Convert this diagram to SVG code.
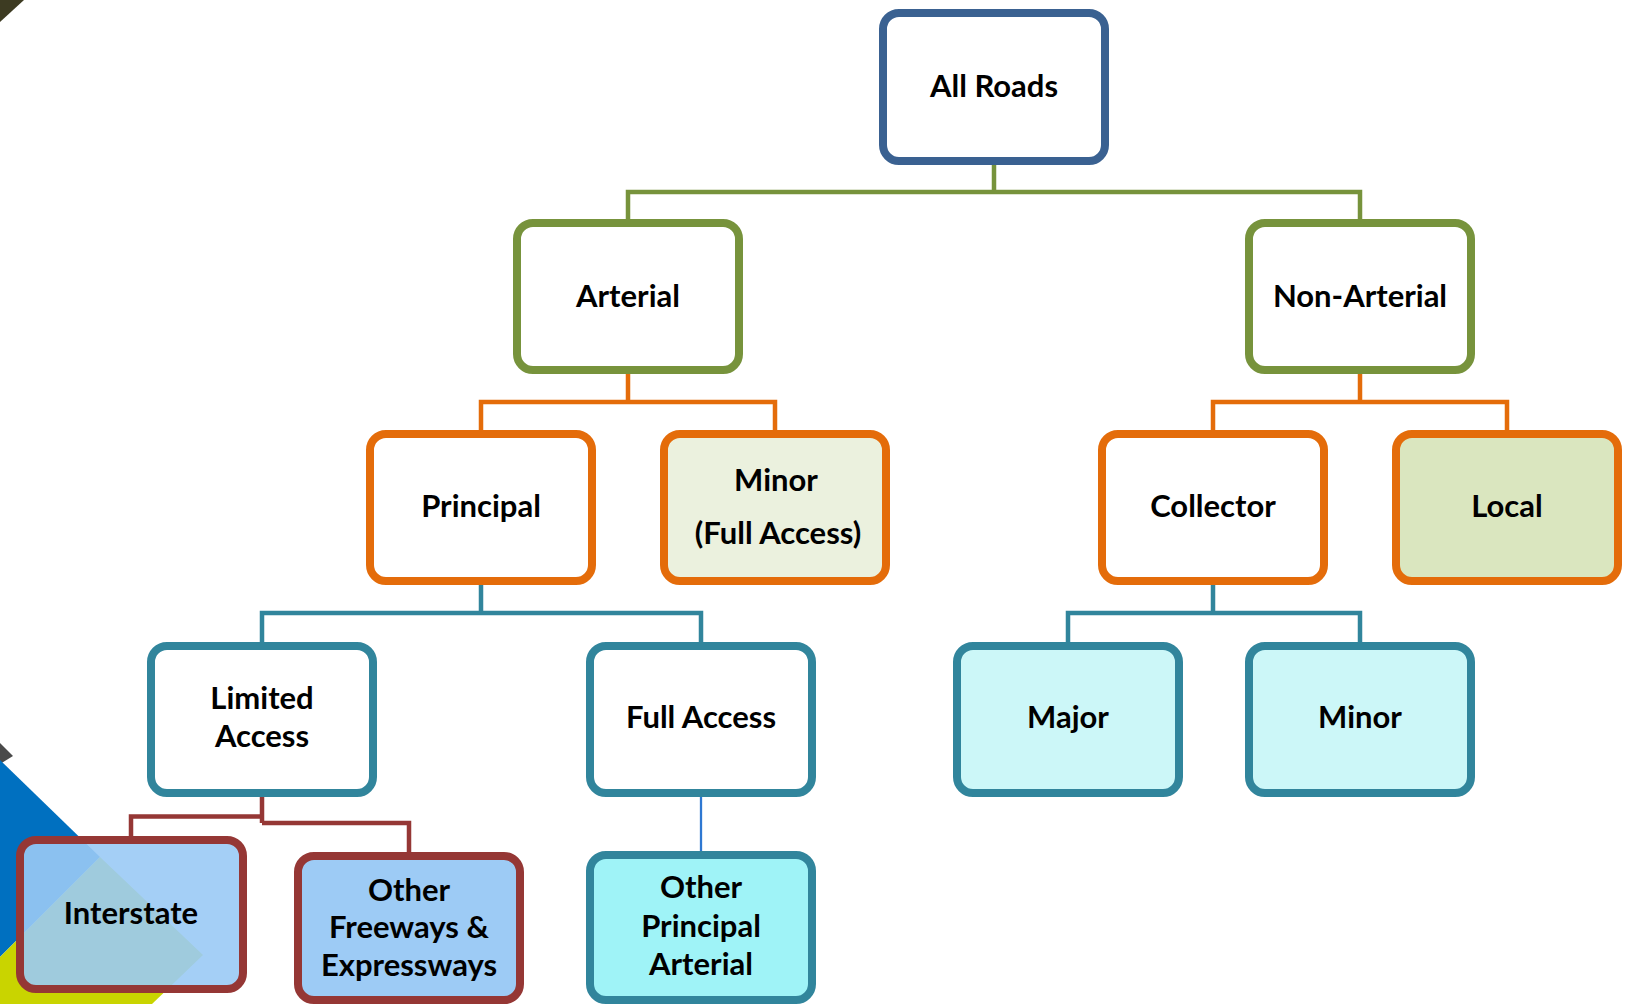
<svg xmlns="http://www.w3.org/2000/svg" width="1626" height="1004" viewBox="0 0 1626 1004">
<style>
  .box{stroke-width:8}
  .t{font-family:Lato,"Liberation Sans",sans-serif;font-weight:700;font-size:31px;fill:#000;text-anchor:middle}
  .c{fill:none;stroke-width:4.5;stroke-linejoin:miter;stroke-linecap:butt}
  .blue{stroke:#3A6191}
  .green{stroke:#77933C}
  .orange{stroke:#E46C0A}
  .teal{stroke:#31859C}
  .brown{stroke:#953735}
</style>
<rect width="1626" height="1004" fill="#FFFFFF"/>
<g id="background">
  <polygon points="0,0 24,0 0,22" fill="#3D3B22"/>
  <polygon points="0,743 13,756 0,764" fill="#4A4A4A"/>
  <polygon points="0,760 100,857 0,957" fill="#0070C0"/>
  <polygon points="100,857 203,955 152,1004 0,1004 0,957" fill="#C9D400"/>
</g>
<g id="connectors">
  <path class="c green" d="M994,165 V192 M628,219 V192 H1360 V219"/>
  <path class="c orange" d="M628,374 V402 M481,430 V402 H775 V430"/>
  <path class="c orange" d="M1360,374 V402 M1213,430 V402 H1507 V430"/>
  <path class="c teal" d="M481,585 V613 M262,642 V613 H701 V642"/>
  <path class="c teal" d="M1213,585 V613 M1068,642 V613 H1360 V642"/>
  <path class="c brown" d="M262,797 V823 M262,816.5 H131 V836 M262,823 H409 V852"/>
  <path fill="none" stroke="#2E78D2" stroke-width="2.3" d="M701,796 V851"/>
</g>
<g id="all-roads">
  <rect class="box" x="883" y="13" width="222" height="148" rx="16" fill="#FFFFFF" stroke="#3A6191"/>
  <text class="t" x="994" y="97">All Roads</text>
</g>
<g id="arterial">
  <rect class="box" x="517" y="223" width="222" height="147" rx="16" fill="#FFFFFF" stroke="#77933C"/>
  <text class="t" x="628" y="307">Arterial</text>
</g>
<g id="non-arterial">
  <rect class="box" x="1249" y="223" width="222" height="147" rx="16" fill="#FFFFFF" stroke="#77933C"/>
  <text class="t" x="1360" y="307">Non-Arterial</text>
</g>
<g id="principal">
  <rect class="box" x="370" y="434" width="222" height="147" rx="16" fill="#FFFFFF" stroke="#E46C0A"/>
  <text class="t" x="481" y="517">Principal</text>
</g>
<g id="minor-full-access">
  <rect class="box" x="664" y="434" width="222" height="147" rx="16" fill="#EBF1DE" stroke="#E46C0A"/>
  <text class="t" x="776" y="491">Minor</text>
  <text class="t" x="778" y="544">(Full Access)</text>
</g>
<g id="collector">
  <rect class="box" x="1102" y="434" width="222" height="147" rx="16" fill="#FFFFFF" stroke="#E46C0A"/>
  <text class="t" x="1213" y="517">Collector</text>
</g>
<g id="local">
  <rect class="box" x="1396" y="434" width="222" height="147" rx="16" fill="#DAE6BF" stroke="#E46C0A"/>
  <text class="t" x="1507" y="517">Local</text>
</g>
<g id="limited-access">
  <rect class="box" x="151" y="646" width="222" height="147" rx="16" fill="#FFFFFF" stroke="#31859C"/>
  <text class="t" x="262" y="709">Limited</text>
  <text class="t" x="262" y="747">Access</text>
</g>
<g id="full-access">
  <rect class="box" x="590" y="646" width="222" height="147" rx="16" fill="#FFFFFF" stroke="#31859C"/>
  <text class="t" x="701" y="728">Full Access</text>
</g>
<g id="major">
  <rect class="box" x="957" y="646" width="222" height="147" rx="16" fill="#CCF7F8" stroke="#31859C"/>
  <text class="t" x="1068" y="728">Major</text>
</g>
<g id="minor">
  <rect class="box" x="1249" y="646" width="222" height="147" rx="16" fill="#CCF7F8" stroke="#31859C"/>
  <text class="t" x="1360" y="728">Minor</text>
</g>
<g id="interstate">
  <rect class="box" x="20" y="840" width="223" height="149" rx="16" fill="#9ACAF5" fill-opacity="0.9" stroke="#953735"/>
  <text class="t" x="131" y="924">Interstate</text>
</g>
<g id="other-freeways">
  <rect class="box" x="298" y="856" width="222" height="144" rx="16" fill="#9DCBF5" stroke="#953735"/>
  <text class="t" x="409" y="901">Other</text>
  <text class="t" x="409" y="938">Freeways &amp;</text>
  <text class="t" x="409" y="976">Expressways</text>
</g>
<g id="other-principal-arterial">
  <rect class="box" x="590" y="855" width="222" height="145" rx="16" fill="#9FF3F7" stroke="#31859C"/>
  <text class="t" x="701" y="898">Other</text>
  <text class="t" x="701" y="937">Principal</text>
  <text class="t" x="701" y="975">Arterial</text>
</g>
</svg>
